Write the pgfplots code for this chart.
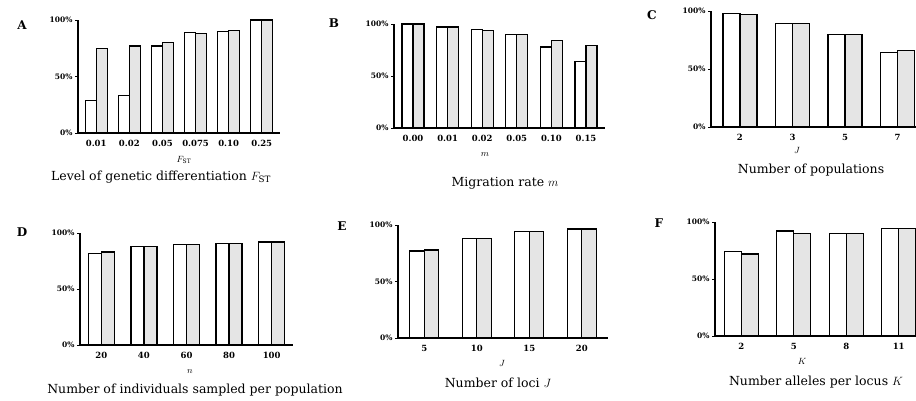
\documentclass[border=0pt]{standalone}
\usepackage{pgfplots}
\pgfplotsset{compat=1.18}
\usepackage{fontspec}
\setmainfont{DejaVu Serif}
\pgfplotsset{
  panel/.style={
    scale only axis, axis lines*=left, enlargelimits=false,
    ymin=0, ymax=100, ytick={0,50,100},
    yticklabels={0\%,50\%,100\%},
    ybar=0pt,
    axis line style={line width=1.4pt, black},
    ytick align=outside, xtick align=center,
    major tick length=3pt, minor tick length=5pt,
    xtick style={draw=none},
    minor tick style={line width=0.8pt, black},
    ytick style={line width=0.8pt, black},
    yticklabel style={font=\fontsize{7.5}{8}\selectfont\bfseries, xshift=1pt},
    xticklabel style={font=\fontsize{8.5}{9}\selectfont\bfseries, yshift=-2pt},
    clip=false,
  },
  wbar/.style={draw=black, fill=white, line width=1.3pt},
  gbar/.style={draw=black, fill=black!10, line width=1.3pt},
}
\begin{document}
\begin{tikzpicture}
\path[use as bounding box] (0,0) rectangle (916pt,-401pt);
% A
\begin{axis}[panel, at={(78pt,-133pt)}, anchor=south west, width=202pt, height=113pt,
  bar width=11pt, xmin=-0.55, xmax=5.55, xtick={0,...,5},
  xticklabels={0.01,0.02,0.05,0.075,0.10,0.25},
  minor xtick={-0.5,0.5,...,5.5}]
\addplot[wbar] coordinates {(0,29) (1,33) (2,77) (3,89) (4,90) (5,100)};
\addplot[gbar] coordinates {(0,75) (1,77) (2,80) (3,88) (4,91) (5,100)};
\end{axis}
% B
\begin{axis}[panel, at={(394pt,-128pt)}, anchor=south west, width=211pt, height=104pt,
  bar width=11pt, xmin=-0.55, xmax=5.55, xtick={0,...,5},
  xticklabels={0.00,0.01,0.02,0.05,0.10,0.15},
  minor xtick={-0.5,0.5,...,5.5}]
\addplot[wbar] coordinates {(0,100) (1,97) (2,95) (3,90) (4,78) (5,64)};
\addplot[gbar] coordinates {(0,100) (1,97) (2,94) (3,90) (4,84) (5,79)};
\end{axis}
% C
\begin{axis}[panel, at={(711pt,-127pt)}, anchor=south west, width=205pt, height=116pt,
  bar width=17pt, xmin=-0.55, xmax=3.35, xtick={0,...,3},
  xticklabels={2,3,5,7},
  minor xtick={0.5,1.5,2.5}]
\addplot[wbar] coordinates {(0,98) (1,89) (2,80) (3,64)};
\addplot[gbar] coordinates {(0,97) (1,89) (2,80) (3,66)};
\end{axis}
% D
\begin{axis}[panel, at={(80pt,-345pt)}, anchor=south west, width=213pt, height=112pt,
  bar width=13pt, xmin=-0.5, xmax=4.5, xtick={0,...,4},
  xticklabels={20,40,60,80,100},
  minor xtick={0.5,1.5,...,4.5}]
\addplot[wbar] coordinates {(0,82) (1,88) (2,90) (3,90.5) (4,92)};
\addplot[gbar] coordinates {(0,83) (1,88) (2,90) (3,90.5) (4,92)};
\end{axis}
% E
\begin{axis}[panel, at={(398pt,-338pt)}, anchor=south west, width=210pt, height=113pt,
  bar width=14.5pt, xmin=-0.5, xmax=3.5, xtick={0,...,3},
  xticklabels={5,10,15,20},
  minor xtick={0.5,1.5,...,3.5}]
\addplot[wbar] coordinates {(0,77) (1,88) (2,94) (3,96.5)};
\addplot[gbar] coordinates {(0,78) (1,88) (2,94) (3,96.5)};
\end{axis}
% F
\begin{axis}[panel, at={(715pt,-336pt)}, anchor=south west, width=201pt, height=114pt,
  bar width=17pt, xmin=-0.5, xmax=3.33, xtick={0,...,3},
  xticklabels={2,5,8,11},
  minor xtick={0.5,1.5,2.5}]
\addplot[wbar] coordinates {(0,74) (1,92) (2,90) (3,94)};
\addplot[gbar] coordinates {(0,72) (1,90) (2,90) (3,94)};
\end{axis}
% panel letters
\begin{scope}[every node/.style={font=\fontsize{12}{12}\selectfont\bfseries}]
\node at (22pt,-25pt) {A};
\node at (334pt,-23pt) {B};
\node at (652pt,-15pt) {C};
\node at (22pt,-232pt) {D};
\node at (342pt,-226pt) {E};
\node at (659pt,-223pt) {F};
\end{scope}
% variable labels
\begin{scope}[every node/.style={font=\fontsize{9}{9}\selectfont}]
\node at (184pt,-160pt) {$F_{\mathrm{ST}}$};
\node at (485pt,-155pt) {$m$};
\node at (797pt,-150pt) {$J$};
\node at (190pt,-372pt) {$n$};
\node at (502pt,-363pt) {$J$};
\node at (802pt,-361pt) {$K$};
\end{scope}
% titles
\begin{scope}[every node/.style={font=\fontsize{12.5}{13}\selectfont}]
\node at (161pt,-177pt) {Level of genetic differentiation $F_{\mathrm{ST}}$};
\node at (505pt,-183pt) {Migration rate $m$};
\node at (811pt,-170pt) {Number of populations};
\node at (195pt,-390pt) {Number of individuals sampled per population};
\node at (498pt,-383pt) {Number of loci $J$};
\node at (816pt,-382pt) {Number alleles per locus $K$};
\end{scope}
\end{tikzpicture}
\end{document}
